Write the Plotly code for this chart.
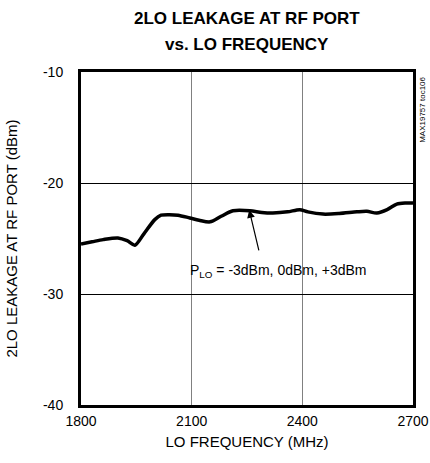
import plotly.graph_objects as go

freq_mhz = [1800, 1830, 1860, 1900, 1925, 1946, 1970, 2000, 2017, 2040, 2063, 2095, 2120, 2150, 2180, 2212, 2258, 2290, 2320, 2360, 2393, 2415, 2456, 2500, 2548, 2575, 2602, 2630, 2656, 2680, 2700]
leak_dbm = [-25.5, -25.3, -25.1, -24.95, -25.2, -25.6, -24.6, -23.3, -22.9, -22.85, -22.9, -23.15, -23.35, -23.5, -23.0, -22.5, -22.5, -22.65, -22.7, -22.6, -22.4, -22.6, -22.8, -22.75, -22.6, -22.55, -22.7, -22.4, -21.9, -21.8, -21.8]

x_ticks = [1800, 2100, 2400, 2700]
y_ticks = [-10, -20, -30, -40]

font = "Liberation Sans, Arial, sans-serif"

fig = go.Figure()
fig.add_trace(go.Scatter(x=freq_mhz, y=leak_dbm, mode="lines",
                         line=dict(color="black", width=3.5, shape="spline", smoothing=0.8),
                         showlegend=False, hoverinfo="skip"))

fig.update_layout(
    width=430, height=463,
    margin=dict(l=81, r=17, t=72, b=58, autoexpand=False),
    paper_bgcolor="white", plot_bgcolor="white",
    font=dict(family=font, size=14, color="black"),
    xaxis=dict(range=[1800, 2700], tickvals=x_ticks, ticktext=[str(v) for v in x_ticks],
               showgrid=True, gridcolor="#808080", gridwidth=1,
               showline=True, linecolor="black", linewidth=3, mirror=True,
               ticks="", ticklabelstandoff=1, zeroline=False, automargin=False,
               tickfont=dict(size=14),
               title=dict(text="LO FREQUENCY (MHz)", standoff=9, font=dict(size=15))),
    yaxis=dict(range=[-40, -10], tickvals=y_ticks, ticktext=[str(v) for v in y_ticks],
               showgrid=True, gridcolor="black", gridwidth=1,
               showline=True, linecolor="black", linewidth=3, mirror=True,
               ticks="", ticklabelstandoff=12, zeroline=False, automargin=False,
               tickfont=dict(size=14),
               title=dict(text="2LO LEAKAGE AT RF PORT (dBm)", standoff=22, font=dict(size=15))),
)

fig.add_annotation(x=0.5, y=1.162, xref="paper", yref="paper", xanchor="center", yanchor="middle",
                   text="<b>2LO LEAKAGE AT RF PORT</b>", showarrow=False,
                   font=dict(size=17))
fig.add_annotation(x=0.5, y=1.084, xref="paper", yref="paper", xanchor="center", yanchor="middle",
                   text="<b>vs. LO FREQUENCY</b>", showarrow=False,
                   font=dict(size=17))

fig.add_annotation(x=2256, y=-22.43, ax=10, ay=42, axref="pixel", ayref="pixel",
                   xref="x", yref="y", text="", showarrow=True,
                   arrowhead=2, arrowsize=1.3, arrowwidth=1.2, arrowcolor="black")
fig.add_annotation(x=2090, y=-27.9, xref="x", yref="y", xanchor="left", yanchor="middle",
                   text="P<sub>LO</sub> = -3dBm, 0dBm, +3dBm", showarrow=False,
                   font=dict(size=14))
fig.add_annotation(x=1.0, y=0.99, xref="paper", yref="paper", xanchor="left", yanchor="top",
                   xshift=3, text="MAX19757 toc106", textangle=-90, showarrow=False,
                   font=dict(size=8))

fig.write_html("out.html", config={"displayModeBar": False},
               post_script="document.body.style.margin='0';document.body.style.overflow='hidden';")
